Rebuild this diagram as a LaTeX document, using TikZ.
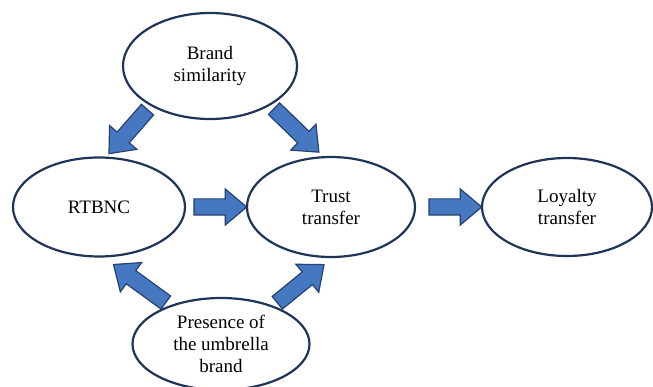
\documentclass[tikz,border=0pt]{standalone}
\usepackage{fontspec}
\setmainfont{Liberation Serif}
\usetikzlibrary{shapes,arrows,positioning,calc,backgrounds}
\definecolor{ovalblue}{RGB}{32,52,90}
\definecolor{arrowblue}{RGB}{70,120,194}
\definecolor{arrowedge}{RGB}{38,66,112}

% fat arrow from one point to another
\newcommand\blockarrow[2]{%
  \path let \p1=(#1), \p2=(#2),
    \n1={atan2(\y2-\y1,\x2-\x1)}, \n2={veclen(\x2-\x1,\y2-\y1)} in
    node[fatarrow, minimum height=\n2, rotate=\n1] at ($(\p1)!0.5!(\p2)$) {};}

\begin{document}
\begin{tikzpicture}[x=1pt, y=-1pt,
    oval/.style={ellipse, draw=ovalblue, line width=2.2pt, fill=white, inner sep=0pt, align=center, font=\fontsize{19}{22}\selectfont},
    fatarrow/.style={single arrow, draw=arrowedge, fill=arrowblue, line width=1.2pt, inner sep=7.5pt, single arrow head extend=10pt, single arrow tip angle=80}]
  \useasboundingbox (0,0) rectangle (653,387);

  % Ovals
  \node[oval, minimum width=174pt, minimum height=106pt] (brand) at (210,66) {Brand\\similarity};
  \node[oval, minimum width=172pt, minimum height=99pt] (rtbnc) at (99,207) {RTBNC};
  \node[oval, minimum width=168pt, minimum height=100pt] (trust) at (331,207) {Trust\\transfer};
  \node[oval, minimum width=170pt, minimum height=98pt] (loyalty) at (567,207) {Loyalty\\transfer};
  \node[oval, minimum width=177pt, minimum height=92pt] (presence) at (221,344) {Presence of\\the umbrella\\brand};

  % Arrows
  \begin{scope}[on background layer]
    \blockarrow{brand.214}{$(rtbnc.77)!-7pt!(rtbnc.center)$}
    \blockarrow{brand.327}{$(trust.105)!-8pt!(trust.center)$}
    \blockarrow{$(rtbnc.east)+(3,0)$}{$(trust.west)+(-4,0)$}
    \blockarrow{$(trust.east)+(8,0)$}{$(loyalty.west)+(-4,0)$}
    \blockarrow{presence.143}{$(rtbnc.287)!-11pt!(rtbnc.center)$}
    \blockarrow{presence.36}{$(trust.260)!-10pt!(trust.center)$}
  \end{scope}
\end{tikzpicture}
\end{document}
